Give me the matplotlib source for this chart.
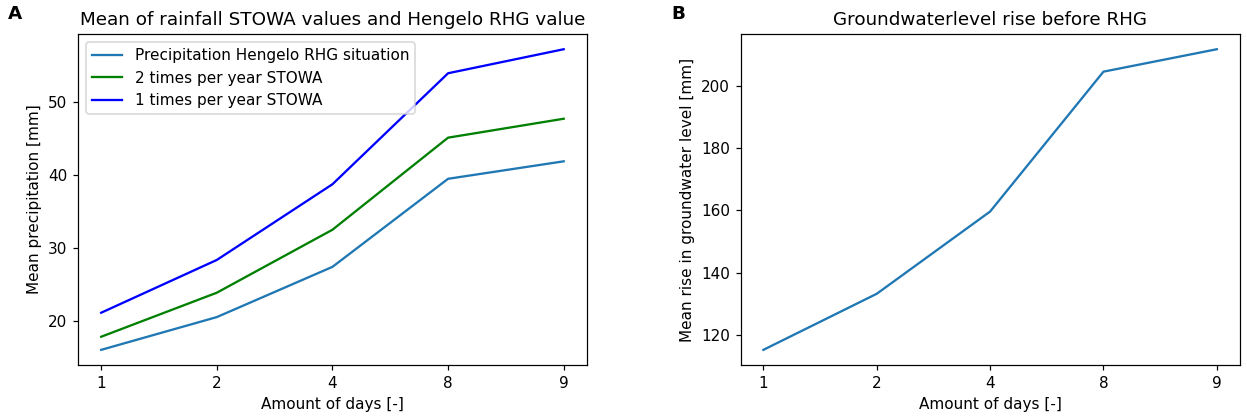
import matplotlib
matplotlib.use("Agg")
import matplotlib.pyplot as plt

days = ["1", "2", "4", "8", "9"]
hengelo_rhg = [16.0, 20.5, 27.4, 39.5, 41.9]
stowa_2_per_year = [17.8, 23.85, 32.5, 45.15, 47.75]
stowa_1_per_year = [21.1, 28.35, 38.75, 54.0, 57.3]
gw_rise = [115.2, 133.2, 159.6, 204.5, 211.7]

# 110 dpi so that fonts and lines come out a bit larger
fig = plt.figure(figsize=(1247 / 110, 417 / 110), dpi=110)
ax1 = fig.add_axes([0.0626, 0.125, 0.408, 0.793])
ax2 = fig.add_axes([0.594, 0.125, 0.400, 0.793])

# panel A
ax1.plot(days, hengelo_rhg, color="tab:blue", label="Precipitation Hengelo RHG situation")
ax1.plot(days, stowa_2_per_year, color="green", label="2 times per year STOWA")
ax1.plot(days, stowa_1_per_year, color="blue", label="1 times per year STOWA")
ax1.set_title("Mean of rainfall STOWA values and Hengelo RHG value")
ax1.set_xlabel("Amount of days [-]")
ax1.set_ylabel("Mean precipitation [mm]")
ax1.legend(loc="upper left")

# panel B
ax2.plot(days, gw_rise, color="tab:blue")
ax2.set_title("Groundwaterlevel rise before RHG")
ax2.set_xlabel("Amount of days [-]")
ax2.set_ylabel("Mean rise in groundwater level [mm]")

fig.text(0.006, 0.955, "A", fontsize=12, fontweight="bold")
fig.text(0.538, 0.955, "B", fontsize=12, fontweight="bold")

fig.savefig("out.png", dpi=110)
